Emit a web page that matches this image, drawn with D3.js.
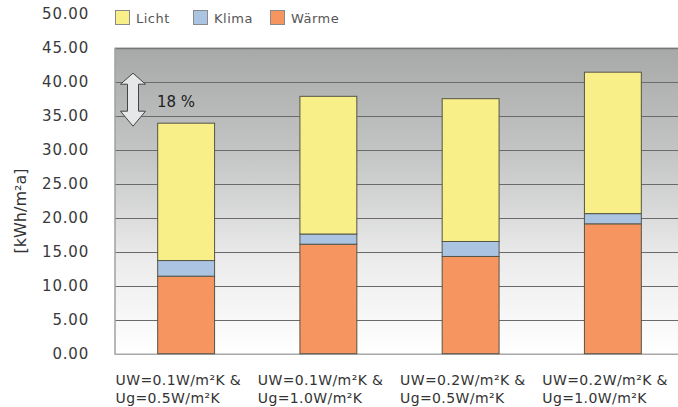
<!DOCTYPE html>
<html><head><meta charset="utf-8">
<script src="https://cdn.jsdelivr.net/npm/d3@7"></script>
<style>body{margin:0;background:#fff;}svg{display:block;}</style>
</head><body><svg id="c" width="678" height="407"></svg>
<script>
const categories = [
  ["UW=0.1W/m\u00B2K &", "Ug=0.5W/m\u00B2K"],
  ["UW=0.1W/m\u00B2K &", "Ug=1.0W/m\u00B2K"],
  ["UW=0.2W/m\u00B2K &", "Ug=0.5W/m\u00B2K"],
  ["UW=0.2W/m\u00B2K &", "Ug=1.0W/m\u00B2K"]
];
const waerme = [11.4, 16.1, 14.3, 19.1];
const klima  = [2.3, 1.5, 2.2, 1.5];
const licht  = [20.2, 20.25, 21.0, 20.8];
const seriesNames = ["Licht", "Klima", "W\u00E4rme"];
const seriesColors = ["#f8ef88", "#aac4e2", "#f6955f"];
const yTicks = [0, 5, 10, 15, 20, 25, 30, 35, 40, 45, 50];
const yTitle = "[kWh/m\u00B2a]";
const annotation = "18 %";

const svg = d3.select("#c");
const left = 115, right = 684, bottom = 353.7;
const y = d3.scaleLinear().domain([0, 50]).range([bottom, bottom - 6.8 * 50]);
const x = d3.scaleBand().domain(d3.range(categories.length)).range([left, right]).paddingInner(0.6).paddingOuter(0.3);
const plotTop = y(45);

const defs = svg.append("defs");
const grad = defs.append("linearGradient").attr("id", "bg").attr("x1", 0).attr("y1", 0).attr("x2", 0).attr("y2", 1);
grad.append("stop").attr("offset", "0%").attr("stop-color", "#a7a9a9");
grad.append("stop").attr("offset", "35%").attr("stop-color", "#c4c5c5");
grad.append("stop").attr("offset", "70%").attr("stop-color", "#ececec");
grad.append("stop").attr("offset", "100%").attr("stop-color", "#ffffff");

svg.append("rect").attr("x", left).attr("y", plotTop).attr("width", 678 - left).attr("height", bottom - plotTop).attr("fill", "url(#bg)");

// gridlines
svg.append("g").selectAll("line").data(yTicks.filter(d => d > 0 && d <= 45)).join("line")
  .attr("x1", left).attr("x2", 678).attr("y1", d => Math.round(y(d)) + 0.5).attr("y2", d => Math.round(y(d)) + 0.5)
  .attr("stroke", d => d === 45 ? "#777" : "#6a6a6a").attr("stroke-width", d => d === 45 ? 1.5 : 1);

// axes borders
svg.append("line").attr("x1", left).attr("x2", left).attr("y1", plotTop).attr("y2", bottom + 1)
  .attr("stroke", "#a0a0a0").attr("stroke-width", 1.5);
svg.append("line").attr("x1", left).attr("x2", 678).attr("y1", bottom + 0.5).attr("y2", bottom + 0.5)
  .attr("stroke", "#a8a8a8").attr("stroke-width", 1.5);

// y tick labels
const yAxis = d3.axisLeft(y).tickValues(yTicks).tickFormat(d3.format(".2f")).tickSize(0).tickPadding(0);
const ga = svg.append("g").attr("transform", "translate(89,0)").call(yAxis);
ga.select(".domain").remove();
ga.selectAll("text").attr("font-family", "DejaVu Sans").attr("font-size", 15).attr("fill", "#3a3a3a")
  .attr("letter-spacing", "0.8px").attr("dy", "0.35em");

// stacked bars
const stackData = categories.map((c, i) => ({i, "W\u00E4rme": waerme[i], "Klima": klima[i], "Licht": licht[i]}));
const stack = d3.stack().keys(["W\u00E4rme", "Klima", "Licht"])(stackData);
const colorOf = {"Licht": seriesColors[0], "Klima": seriesColors[1], "W\u00E4rme": seriesColors[2]};
svg.append("g").selectAll("g").data(stack).join("g").attr("fill", d => colorOf[d.key])
  .selectAll("rect").data(d => d).join("rect")
  .attr("x", d => x(d.data.i)).attr("width", x.bandwidth())
  .attr("y", d => y(d[1])).attr("height", d => y(d[0]) - y(d[1]))
  .attr("stroke", "#555547").attr("stroke-width", 1);

// x labels
const xl = svg.append("g");
categories.forEach((c, i) => {
  const cx = x(i) + x.bandwidth() / 2 - x.step() / 2 + 0.5;
  const t = xl.append("text").attr("x", cx).attr("y", 385).attr("font-family", "DejaVu Sans").attr("font-size", 14)
    .attr("fill", "#333").attr("letter-spacing", "0.4px");
  t.append("tspan").attr("x", cx).attr("dy", 0).text(c[0]);
  t.append("tspan").attr("x", cx).attr("dy", 18).text(c[1]);
});

// y title
svg.append("text").attr("transform", `translate(26,${211}) rotate(-90)`).attr("text-anchor", "middle")
  .attr("font-family", "DejaVu Sans").attr("font-size", 16).attr("fill", "#333").text(yTitle);

// legend
const lg = svg.append("g");
const legX = [115, 193, 270];
seriesNames.forEach((n, i) => {
  lg.append("rect").attr("x", legX[i] + 0.5).attr("y", 10.5).attr("width", 14).attr("height", 14)
    .attr("fill", seriesColors[i]).attr("stroke", "#8a8a8a").attr("stroke-width", 1);
  lg.append("text").attr("x", legX[i] + 21).attr("y", 23).attr("font-family", "DejaVu Sans").attr("font-size", 13)
    .attr("fill", "#555").attr("letter-spacing", "0.5px").text(n);
});

// annotation arrow between highest and lowest total
const totals = waerme.map((w, i) => w + klima[i] + licht[i]);
const yHi = y(d3.max(totals)), yLo = y(d3.min(totals));
const ax = 133, hw = 12.5, sw = 5.5, hh = 12;
const path = [
  [ax, yHi + 1], [ax + hw, yHi + hh], [ax + sw, yHi + hh], [ax + sw, yLo - hh], [ax + hw, yLo - hh],
  [ax, yLo + 3], [ax - hw, yLo - hh], [ax - sw, yLo - hh], [ax - sw, yHi + hh], [ax - hw, yHi + hh]
];
svg.append("path").attr("d", d3.line()(path) + "Z").attr("fill", "#e6e7e8").attr("stroke", "#444").attr("stroke-width", 1);
svg.append("text").attr("x", 157).attr("y", 107).attr("font-family", "DejaVu Sans").attr("font-size", 15)
  .attr("fill", "#222").text(annotation);
</script></body></html>
